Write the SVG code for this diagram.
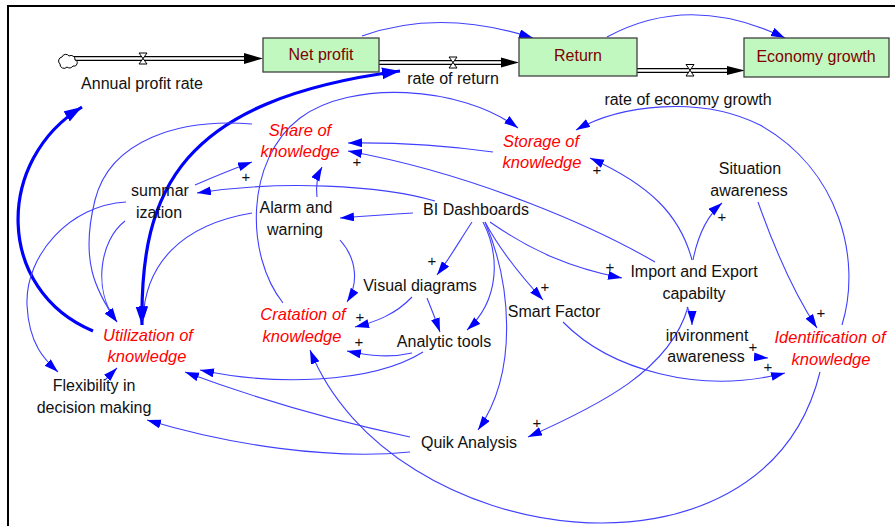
<svg xmlns="http://www.w3.org/2000/svg" width="895" height="526" viewBox="0 0 895 526">
<defs>
<style>
text{font-family:"Liberation Sans",Arial,sans-serif;font-size:16px;fill:#111;text-anchor:middle}
.red{fill:#ff0000;font-style:italic;font-size:16.5px}
.stk{fill:#800000}
.plus{font-size:15px;fill:#111}
.stock{fill:#c0f8c0;stroke:#404040;stroke-width:1.3}
.link{fill:none;stroke:#4040ff;stroke-width:1.1;marker-end:url(#ah)}
.thick{fill:none;stroke:#0000ff;stroke-width:3.2}
.pipeo{stroke:#000;stroke-width:5;fill:none}
.pipei{stroke:#fff;stroke-width:2.6;fill:none}
.valve{fill:#fff;stroke:#000;stroke-width:1}
</style>
<marker id="ah" markerUnits="userSpaceOnUse" markerWidth="15" markerHeight="10" refX="14" refY="4.5" orient="auto">
<path d="M0,0 L14,4.5 L0,9 z" fill="#0000ff"/>
</marker>
<marker id="ahT" markerUnits="userSpaceOnUse" markerWidth="20" markerHeight="14" refX="18" refY="6" orient="auto-start-reverse">
<path d="M0,0 L18,6 L0,12 z" fill="#0000ff"/>
</marker>
</defs>
<rect x="0" y="0" width="895" height="526" fill="#fff"/>
<g id="frame">
<path d="M8,526 L8,6 L895,6" fill="none" stroke="#000" stroke-width="2"/>
</g>

<g id="flows">
<path d="M66,58.5 L246,58.5" class="pipeo"/>
<path d="M72,58.5 L246,58.5" class="pipei"/>
<polygon points="244,53 263,58.5 244,64" fill="#000"/>
<path d="M60,64 a4,4 0 0 1 2,-7 a4,4 0 0 1 7,-1 a4,4 0 0 1 6,4 a3,3 0 0 1 -2,6 a4,4 0 0 1 -6,1 a4,4 0 0 1 -7,-3 z" fill="#fff" stroke="#000" stroke-width="1"/>
<polygon points="139,53 147,53 139,64 147,64" class="valve"/>
<path d="M379,62.5 L502,62.5" class="pipeo"/>
<path d="M379,62.5 L502,62.5" class="pipei"/>
<polygon points="501,57.5 519,62.5 501,67.5" fill="#000"/>
<polygon points="449,57 457,57 449,68 457,68" class="valve"/>
<path d="M637,70.5 L728,70.5" class="pipeo"/>
<path d="M637,70.5 L728,70.5" class="pipei"/>
<polygon points="727,66 745,70.5 727,75" fill="#000"/>
<polygon points="686,64.5 694,64.5 686,76 694,76" class="valve"/>
<text x="142" y="89">Annual profit rate</text>
<text x="453" y="84">rate of return</text>
<text x="688" y="105">rate of economy growth</text>
</g>

<g id="connectors">
<path class="link" d="M362,36 Q440,8 533,38"/>
<path class="link" d="M607,37 Q690,-8 785,38"/>
<path class="thick" marker-end="url(#ahT)" d="M93,331 C-5,290 -5,160 82,107"/>
<path class="thick" marker-start="url(#ahT)" marker-end="url(#ahT)" d="M142,325 C140,190 180,100 400,71"/>
<path class="link" d="M252,124 C180,118 110,140 95,200 C80,260 95,290 117,322"/>
<path class="link" d="M125,221 C100,240 92,290 117,322"/>
<path class="link" d="M126,202 C70,205 25,255 27,305 C29,345 45,360 58,372"/>
<path class="link" d="M252,213 C180,225 145,265 143,320"/>
<path class="link" d="M317,197 Q315,180 322,167"/>
<path class="link" d="M283,303 C245,255 245,160 300,118 C350,80 460,85 518,128"/>
<path class="link" d="M493,152 Q420,142 348,143"/>
<path class="link" d="M655,262 C600,230 480,175 348,151"/>
<path class="link" d="M692,260 C680,215 650,185 590,158"/>
<path class="link" d="M842,325 C862,260 840,170 760,125 C700,95 620,105 576,130"/>
<path class="link" d="M758,202 C775,250 795,295 817,328"/>
<path class="link" d="M693,260 C698,235 708,215 722,203"/>
<path class="link" d="M490,222 C530,250 570,268 622,278"/>
<path class="link" d="M485,222 C500,250 520,275 543,300"/>
<path class="link" d="M472,222 C460,240 450,258 437,275"/>
<path class="link" d="M483,222 C500,255 500,300 467,330"/>
<path class="link" d="M485,222 C510,280 520,370 478,430"/>
<path class="link" d="M413,213 Q380,215 340,218"/>
<path class="link" d="M435,201 C380,185 280,180 197,193"/>
<path class="link" d="M195,185 Q225,172 252,162"/>
<path class="link" d="M340,240 C358,260 358,285 347,302"/>
<path class="link" d="M412,297 C395,315 375,322 355,327"/>
<path class="link" d="M427,298 Q434,315 440,332"/>
<path class="link" d="M412,353 C390,358 370,356 347,351"/>
<path class="link" d="M423,352 C370,385 270,385 200,370"/>
<path class="link" d="M410,437 C330,420 260,400 185,372"/>
<path class="link" d="M410,452 C330,460 230,445 147,420"/>
<path class="link" d="M105,380 L117,368"/>
<path class="link" d="M563,322 C610,370 700,395 785,373"/>
<path class="link" d="M687,307 Q692,315 692,325"/>
<path class="link" d="M755,357 L768,358"/>
<path class="link" d="M688,307 C670,370 600,405 528,437"/>
<path class="link" d="M820,372 C764,601 390,550 310,350"/>
<text class="plus" x="357" y="167">+</text>
<text class="plus" x="246" y="182">+</text>
<text class="plus" x="597" y="175">+</text>
<text class="plus" x="722" y="222">+</text>
<text class="plus" x="610" y="272">+</text>
<text class="plus" x="545" y="292">+</text>
<text class="plus" x="432" y="266">+</text>
<text class="plus" x="360" y="322">+</text>
<text class="plus" x="359" y="347">+</text>
<text class="plus" x="821" y="318">+</text>
<text class="plus" x="753" y="352">+</text>
<text class="plus" x="768" y="372">+</text>
<text class="plus" x="537" y="428">+</text>
</g>

<g id="net-profit">
<rect class="stock" x="263" y="38" width="116" height="34"/>
<text class="stk" x="321" y="60">Net profit</text>
</g>
<g id="return">
<rect class="stock" x="519" y="38" width="118" height="38"/>
<text class="stk" x="578" y="61">Return</text>
</g>
<g id="economy-growth">
<rect class="stock" x="744" y="38" width="145" height="39"/>
<text class="stk" x="816" y="62">Economy growth</text>
</g>
<g id="share-of-knowledge">
<text class="red" x="300" y="136">Share of</text>
<text class="red" x="300" y="157">knowledge</text>
</g>
<g id="storage-of-knowledge">
<text class="red" x="541" y="147">Storage of</text>
<text class="red" x="542" y="168">knowledge</text>
</g>
<g id="situation-awareness">
<text x="750" y="174">Situation</text>
<text x="749" y="196">awareness</text>
</g>
<g id="summarization">
<text x="160" y="196">summar</text>
<text x="159" y="218">ization</text>
</g>
<g id="alarm-and-warning">
<text x="296" y="213">Alarm and</text>
<text x="295" y="235">warning</text>
</g>
<g id="bi-dashboards">
<text x="476" y="215">BI Dashboards</text>
</g>
<g id="import-export">
<text x="694" y="277">Import and Export</text>
<text x="694" y="299">capabilty</text>
</g>
<g id="visual-diagrams">
<text x="420" y="291">Visual diagrams</text>
</g>
<g id="smart-factor">
<text x="554" y="317">Smart Factor</text>
</g>
<g id="cratation-of-knowledge">
<text class="red" x="303" y="320">Cratation of</text>
<text class="red" x="302" y="342">knowledge</text>
</g>
<g id="analytic-tools">
<text x="444" y="347">Analytic tools</text>
</g>
<g id="utilization-of-knowledge">
<text class="red" x="148" y="341">Utilization of</text>
<text class="red" x="147" y="362">knowledge</text>
</g>
<g id="invironment-awareness">
<text x="707" y="341">invironment</text>
<text x="706" y="362">awareness</text>
</g>
<g id="identification-of-knowledge">
<text class="red" x="830" y="343">Identification of</text>
<text class="red" x="831" y="365">knowledge</text>
</g>
<g id="flexibility">
<text x="94" y="391">Flexibility in</text>
<text x="94" y="413">decision making</text>
</g>
<g id="quik-analysis">
<text x="469" y="448">Quik Analysis</text>
</g>
</svg>
